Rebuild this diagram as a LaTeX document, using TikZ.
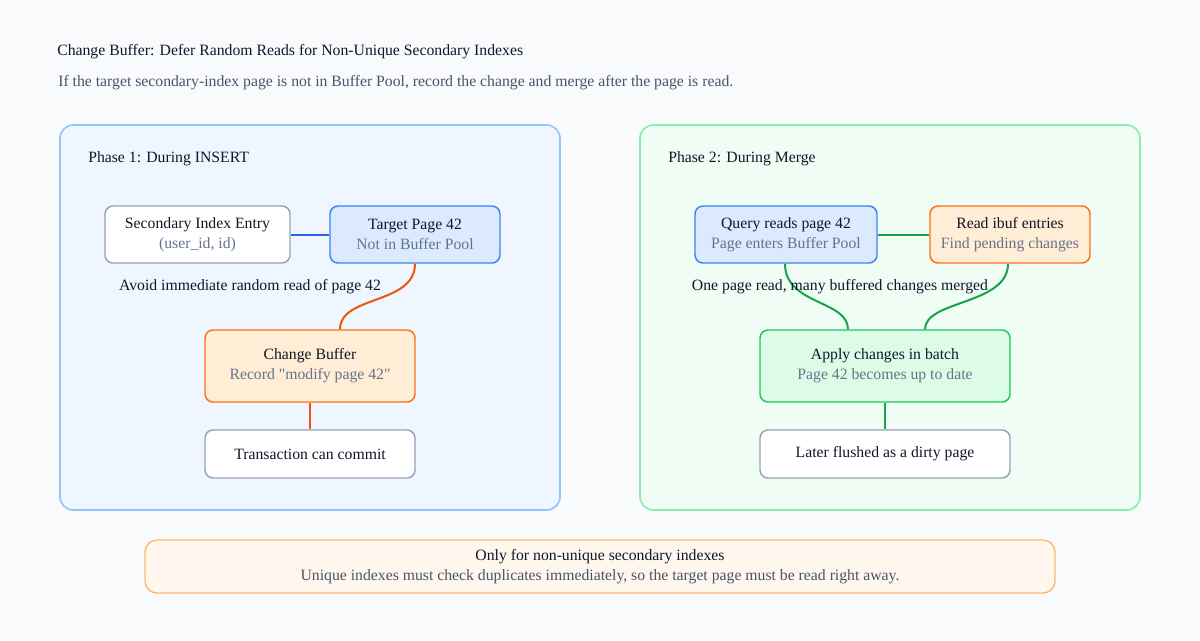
\documentclass[tikz,border=0pt]{standalone}
\usepackage{fontspec}
\setmainfont{Liberation Serif}[Ligatures=TeXOff]
\definecolor{bg}{HTML}{F8FAFC}
\definecolor{ink}{HTML}{0F172A}
\definecolor{sub}{HTML}{475569}
\definecolor{subl}{HTML}{64748B}
\definecolor{grayb}{HTML}{94A3B8}
\definecolor{bluef}{HTML}{DBEAFE}\definecolor{blueb}{HTML}{3B82F6}
\definecolor{orf}{HTML}{FFEDD5}\definecolor{orb}{HTML}{F97316}
\definecolor{grf}{HTML}{DCFCE7}\definecolor{grb}{HTML}{22C55E}
\definecolor{p1f}{HTML}{EFF6FF}\definecolor{p1b}{HTML}{93C5FD}
\definecolor{p2f}{HTML}{F0FDF4}\definecolor{p2b}{HTML}{86EFAC}
\definecolor{notef}{HTML}{FFF7ED}\definecolor{noteb}{HTML}{FDBA74}
\definecolor{ebl}{HTML}{2563EB}\definecolor{eor}{HTML}{EA580C}\definecolor{egr}{HTML}{16A34A}
\begin{document}
\begin{tikzpicture}[x=0.75pt,y=-0.75pt,
  panel/.style={rounded corners=10pt,line width=1.2pt},
  box/.style={draw,rounded corners=6pt,line width=1.1pt,align=center,inner sep=0pt,font=\fontsize{11.8}{15}\selectfont,text=ink},
  plain/.style={box,fill=white,draw=grayb},
  bl/.style={box,fill=bluef,draw=blueb},
  og/.style={box,fill=orf,draw=orb},
  gn/.style={box,fill=grf,draw=grb},
  edge/.style={line width=1.5pt},
  lbl/.style={font=\fontsize{11.8}{14}\selectfont,text=ink,inner sep=0pt}]
\fill[bg] (0,0) rectangle (1200,640);
\useasboundingbox (0,0) rectangle (1200,640);
\node[lbl,anchor=west] (title) at (57,52) {Change Buffer: Defer Random Reads for Non-Unique Secondary Indexes};
\node[lbl,anchor=west,text=sub] (subt) at (58,83) {If the target secondary-index page is not in Buffer Pool, record the change and merge after the page is read.};
\draw[panel,fill=p1f,draw=p1b] (60,125) rectangle (560,510);
\draw[panel,fill=p2f,draw=p2b] (640,125) rectangle (1140,510);
\node[lbl,anchor=west] (ph1) at (88,159) {Phase 1: During INSERT};
\node[lbl,anchor=west] (ph2) at (668,159) {Phase 2: During Merge};
% phase 1
\node[plain,minimum width=138.75pt,minimum height=42.75pt] (sie) at (197.5,234.5) {Secondary Index Entry\\\textcolor{subl}{(user\_id, id)}};
\node[bl,minimum width=127.5pt,minimum height=42.75pt] (tp) at (415,234.5) {Target Page 42\\\textcolor{subl}{Not in Buffer Pool}};
\node[og,minimum width=157.5pt,minimum height=54pt] (cb) at (310,366) {Change Buffer\\\textcolor{subl}{Record "modify page 42"}};
\node[plain,minimum width=157.5pt,minimum height=36pt] (tc) at (310,454) {Transaction can commit};
\node[lbl] (avoid) at (250,287) {Avoid immediate random read of page 42};
\draw[edge,ebl] (sie.east) -- (tp.west);
\draw[edge,eor] (tp.south) .. controls (415,305) and (340,295) .. (cb.north -| 340,0);
\draw[edge,eor] (cb.south) -- (tc.north);
% phase 2
\node[bl,minimum width=136.5pt,minimum height=42.75pt] (qr) at (786,234.5) {Query reads page 42\\\textcolor{subl}{Page enters Buffer Pool}};
\node[og,minimum width=120pt,minimum height=42.75pt] (ri) at (1010,234.5) {Read ibuf entries\\\textcolor{subl}{Find pending changes}};
\node[gn,minimum width=187.5pt,minimum height=54pt] (ac) at (885,366) {Apply changes in batch\\\textcolor{subl}{Page 42 becomes up to date}};
\node[plain,minimum width=187.5pt,minimum height=36pt] (lf) at (885,454) {Later flushed as a dirty page};
\draw[edge,egr] (qr.east) -- (ri.west);
\draw[edge,egr] (qr.south -| 785,0) .. controls (785,305) and (848,300) .. (ac.north -| 848,0);
\draw[edge,egr] (ri.south -| 1008,0) .. controls (1008,305) and (925,300) .. (ac.north -| 925,0);
\draw[edge,egr] (ac.south) -- (lf.north);
\node[lbl] (one) at (840,287) {One page read, many buffered changes merged};
% note
\node[box,fill=notef,draw=noteb,minimum width=682.5pt,minimum height=39.75pt,rounded corners=9pt] (note) at (600,566.5) {Only for non-unique secondary indexes\\\textcolor{sub}{Unique indexes must check duplicates immediately, so the target page must be read right away.}};
\end{tikzpicture}
\end{document}
